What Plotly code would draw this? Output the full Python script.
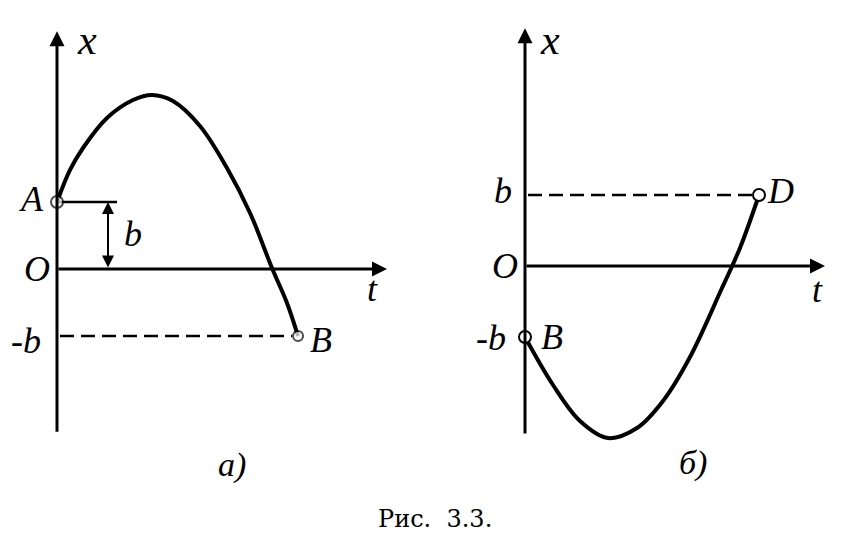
import plotly.graph_objects as go

# ---- data (b = 1 unit on the x axis) ----
# panel a)
t_a = [0.0, 0.217, 0.433, 0.833, 1.267, 1.583, 1.933, 2.383, 2.833, 3.217, 3.583, 3.833, 4.017]
x_a = [1.0, 1.478, 1.806, 2.254, 2.522, 2.597, 2.507, 2.134, 1.507, 0.836, 0.015, -0.507, -1.0]
pts_a_t = [0.0, 4.017]
pts_a_x = [1.0, -1.0]
# panel б)
t_b = [0.0, 0.467, 0.917, 1.383, 1.867, 2.3, 2.75, 3.283, 3.583, 3.9]
x_b = [-1.0, -1.676, -2.183, -2.423, -2.282, -1.901, -1.282, -0.31, 0.254, 1.0]
pts_b_t = [0.0, 3.9]
pts_b_x = [-1.0, 1.0]
b_level = 1.0

# page body has an 8px margin: the figure is placed at (8, 8)
OFF = 8
W, H = 855 - 2 * OFF, 543 - 2 * OFF
# pixel geometry of each panel in the page (origin and unit sizes)
A_O = (57, 269, 60, 67)
B_O = (525, 266, 60, 71)

def rng(o):
    ox, oy, tu, xu = o
    ox -= OFF
    oy -= OFF
    return [-ox / tu, (W - ox) / tu], [(oy - H) / xu, oy / xu]

xr_a, yr_a = rng(A_O)
xr_b, yr_b = rng(B_O)

fig = go.Figure()
LW = 4
fig.add_trace(go.Scatter(x=t_a, y=x_a, mode="lines",
                         line=dict(color="black", width=LW, shape="spline", smoothing=1.0),
                         xaxis="x", yaxis="y", showlegend=False, hoverinfo="skip"))
fig.add_trace(go.Scatter(x=t_b, y=x_b, mode="lines",
                         line=dict(color="black", width=LW, shape="spline", smoothing=1.0),
                         xaxis="x2", yaxis="y2", showlegend=False, hoverinfo="skip"))
# dashed levels
fig.add_trace(go.Scatter(x=[0.05, pts_a_t[1] - 0.1], y=[-b_level, -b_level], mode="lines",
                         line=dict(color="black", width=2.5, dash="14px,7px"), xaxis="x", yaxis="y",
                         showlegend=False, hoverinfo="skip"))
fig.add_trace(go.Scatter(x=[0.05, pts_b_t[1] - 0.1], y=[b_level, b_level], mode="lines",
                         line=dict(color="black", width=2.5, dash="14px,7px"), xaxis="x2", yaxis="y2",
                         showlegend=False, hoverinfo="skip"))
# short solid line at A
fig.add_trace(go.Scatter(x=[0, 1.0], y=[b_level, b_level], mode="lines",
                         line=dict(color="black", width=2.5), xaxis="x", yaxis="y",
                         showlegend=False, hoverinfo="skip"))

fig.update_layout(
    width=W, height=H, margin=dict(l=0, r=0, t=0, b=0),
    plot_bgcolor="white", paper_bgcolor="white",
    xaxis=dict(range=xr_a, domain=[0, 1], visible=False),
    yaxis=dict(range=yr_a, domain=[0, 1], visible=False),
    xaxis2=dict(range=xr_b, domain=[0, 1], visible=False, overlaying="x", anchor="y2"),
    yaxis2=dict(range=yr_b, domain=[0, 1], visible=False, overlaying="y", anchor="x2"),
)

def arrow(xr, yr, x0, y0, x1, y1, w=3, side="end", head=2, size=1.0):
    fig.add_annotation(x=x1, y=y1, ax=x0, ay=y0, xref=xr, yref=yr, axref=xr, ayref=yr,
                       showarrow=True, arrowhead=head, arrowsize=size, arrowwidth=w,
                       arrowcolor="black", arrowside=side, text="", startarrowhead=head,
                       startarrowsize=size)

# axes panel a
arrow("x", "y", 0, -2.45, 0, 3.55)
arrow("x", "y", 0, 0, 5.5, 0)
arrow("x", "y", 0.85, 0.0, 0.85, 1.0, w=2, side="end+start", head=2, size=1.2)
# axes panel b
arrow("x2", "y2", 0, -2.38, 0, 3.35)
arrow("x2", "y2", 0, 0, 5.0, 0)

# open circles
fig.add_trace(go.Scatter(x=pts_a_t, y=pts_a_x, mode="markers",
                         marker=dict(symbol="circle", size=[12, 10], color="white",
                                     line=dict(color="black", width=2)),
                         xaxis="x", yaxis="y", showlegend=False, hoverinfo="skip"))
fig.add_trace(go.Scatter(x=pts_b_t, y=pts_b_x, mode="markers",
                         marker=dict(symbol="circle", size=12, color="white",
                                     line=dict(color="black", width=2)),
                         xaxis="x2", yaxis="y2", showlegend=False, hoverinfo="skip"))

F = dict(family="Liberation Serif", size=36, color="black", style="italic")

def lab(xr, yr, x, y, s, size=36):
    f = dict(F)
    f["size"] = size
    fig.add_annotation(x=x, y=y, xref=xr, yref=yr, text=s, showarrow=False, font=f,
                       xanchor="center", yanchor="middle")

lab("x", "y", 0.5, 3.42, "x", 42)
lab("x", "y", -0.42, 1.05, "A")
lab("x", "y", -0.33, 0.0, "O")
lab("x", "y", 1.27, 0.52, "b")
lab("x", "y", 5.25, -0.3, "t")
lab("x", "y", -0.52, -1.07, "-b")
lab("x", "y", 4.4, -1.06, "B")
lab("x", "y", 2.92, -2.93, "а)", 34)

lab("x2", "y2", 0.42, 3.18, "x", 42)
lab("x2", "y2", -0.37, 1.05, "b")
lab("x2", "y2", 4.25, 1.05, "D")
lab("x2", "y2", -0.33, 0.0, "O")
lab("x2", "y2", 4.88, -0.34, "t")
lab("x2", "y2", -0.57, -1.01, "-b")
lab("x2", "y2", 0.45, -1.0, "B")
lab("x2", "y2", 2.8, -2.77, "б)", 34)

fig.add_annotation(x=(435 - OFF) / W, y=1 - (519 - OFF) / H, xref="paper", yref="paper",
                   xanchor="center", yanchor="middle",
                   showarrow=False, text="Рис.\u00a0\u00a03.3.",
                   font=dict(family="DejaVu Serif", size=24, color="black"))

fig.write_html("out.html")
